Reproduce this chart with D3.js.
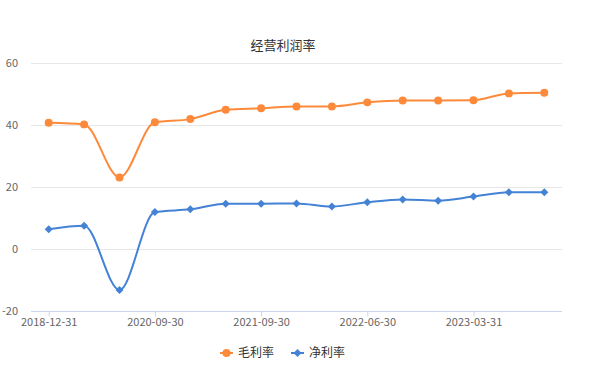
<!DOCTYPE html>
<html>
<head>
<meta charset="utf-8">
<script src="https://cdn.jsdelivr.net/npm/d3@7"></script>
<style>
  body { margin: 0; background: #fff; }
  svg { display: block; font-family: "Noto Sans CJK SC", "Noto Sans", sans-serif; }
</style>
</head>
<body>
<div id="chart"></div>
<script>
var w = 600;
var h = 389;

// categories (report dates)
var dates = ["2018-12-31", "2019-12-31", "2020-06-30", "2020-09-30", "2020-12-31",
             "2021-06-30", "2021-09-30", "2021-12-31", "2022-03-31", "2022-06-30",
             "2022-09-30", "2022-12-31", "2023-03-31", "2023-06-30", "2023-09-30"];
// 毛利率
var grossMargin = [40.7, 40.2, 23.1, 40.9, 41.9, 44.9, 45.4, 46.0, 46.0, 47.3, 47.9, 47.9, 48.0, 50.2, 50.4];
// 净利率
var netMargin = [6.4, 7.5, -13.2, 11.9, 12.8, 14.6, 14.6, 14.7, 13.7, 15.1, 16.0, 15.6, 16.9, 18.3, 18.3];
var yTicks = [-20, 0, 20, 40, 60];
var xTickLabels = ["2018-12-31", "2020-09-30", "2021-09-30", "2022-06-30", "2023-03-31"];

var series = [
  {name: "毛利率", values: grossMargin, color: "#fd8a3b", symbol: d3.symbolCircle, size: 50, rot: 0},
  {name: "净利率", values: netMargin, color: "#4482d5", symbol: d3.symbolSquare, size: 32, rot: 45}
];

var svg = d3.select("#chart")
  .append("svg")
  .attr("width", w)
  .attr("height", h);

var x = d3.scalePoint()
  .domain(dates)
  .range([31, 562])
  .padding(0.5);

var y = d3.scaleLinear()
  .domain([-20, 60])
  .range([311, 63]);

// title
svg.append("text")
  .attr("x", 283)
  .attr("y", 50)
  .attr("text-anchor", "middle")
  .attr("font-size", "13px")
  .attr("fill", "#333")
  .text("经营利润率");

// grid lines
svg.selectAll(".grid")
  .data(yTicks.filter(function(d) { return d !== -20; }))
  .enter()
  .append("line")
  .attr("class", "grid")
  .attr("x1", 31)
  .attr("x2", 562)
  .attr("y1", function(d) { return Math.round(y(d)) + 0.5; })
  .attr("y2", function(d) { return Math.round(y(d)) + 0.5; })
  .attr("stroke", "#e6e6e6")
  .attr("stroke-width", 1);

// y axis labels
svg.selectAll(".ylab")
  .data(yTicks)
  .enter()
  .append("text")
  .attr("class", "ylab")
  .attr("x", 18)
  .attr("y", function(d) { return y(d) + 4; })
  .attr("text-anchor", "end")
  .attr("font-size", "11px")
  .attr("fill", "#666")
  .text(function(d) { return d; });

// x axis
var xAxis = d3.axisBottom(x)
  .tickValues(xTickLabels)
  .tickSize(5)
  .tickSizeOuter(0);

var gx = svg.append("g")
  .attr("transform", "translate(0," + (Math.round(y(-20)) + 0.5) + ")")
  .call(xAxis);

gx.select(".domain")
  .attr("stroke", "#ccd6eb")
  .attr("d", "M31,0H562");
gx.selectAll(".tick line").attr("stroke", "#ccd6eb");
gx.selectAll(".tick text")
  .attr("fill", "#666")
  .attr("font-size", "11px")
  .attr("font-family", "\"Noto Sans CJK SC\", sans-serif")
  .attr("dy", "0.6em");

// lines
var line = d3.line()
  .x(function(d, i) { return x(dates[i]); })
  .y(function(d) { return y(d); })
  .curve(d3.curveMonotoneX);

series.forEach(function(s, k) {
  svg.append("path")
    .datum(s.values)
    .attr("d", line)
    .attr("fill", "none")
    .attr("stroke", s.color)
    .attr("stroke-width", 2);

  svg.selectAll(".pt" + k)
    .data(s.values)
    .enter()
    .append("path")
    .attr("class", "pt" + k)
    .attr("d", d3.symbol().type(s.symbol).size(s.size))
    .attr("transform", function(d, i) {
      return "translate(" + x(dates[i]) + "," + y(d) + ") rotate(" + s.rot + ")";
    })
    .attr("fill", s.color);
});

// legend
var legendX = [220, 291];
var legend = svg.selectAll(".legend")
  .data(series)
  .enter()
  .append("g")
  .attr("transform", function(d, i) { return "translate(" + legendX[i] + ",353)"; });

legend.append("line")
  .attr("x1", 0)
  .attr("x2", 13)
  .attr("y1", 0)
  .attr("y2", 0)
  .attr("stroke", function(d) { return d.color; })
  .attr("stroke-width", 2);

legend.append("path")
  .attr("d", function(d) { return d3.symbol().type(d.symbol).size(d.size)(); })
  .attr("transform", function(d) { return "translate(6.5,0) rotate(" + d.rot + ")"; })
  .attr("fill", function(d) { return d.color; });

legend.append("text")
  .attr("x", 18)
  .attr("y", 4)
  .attr("font-size", "12px")
  .attr("fill", "#333")
  .text(function(d) { return d.name; });
</script>
</body>
</html>
